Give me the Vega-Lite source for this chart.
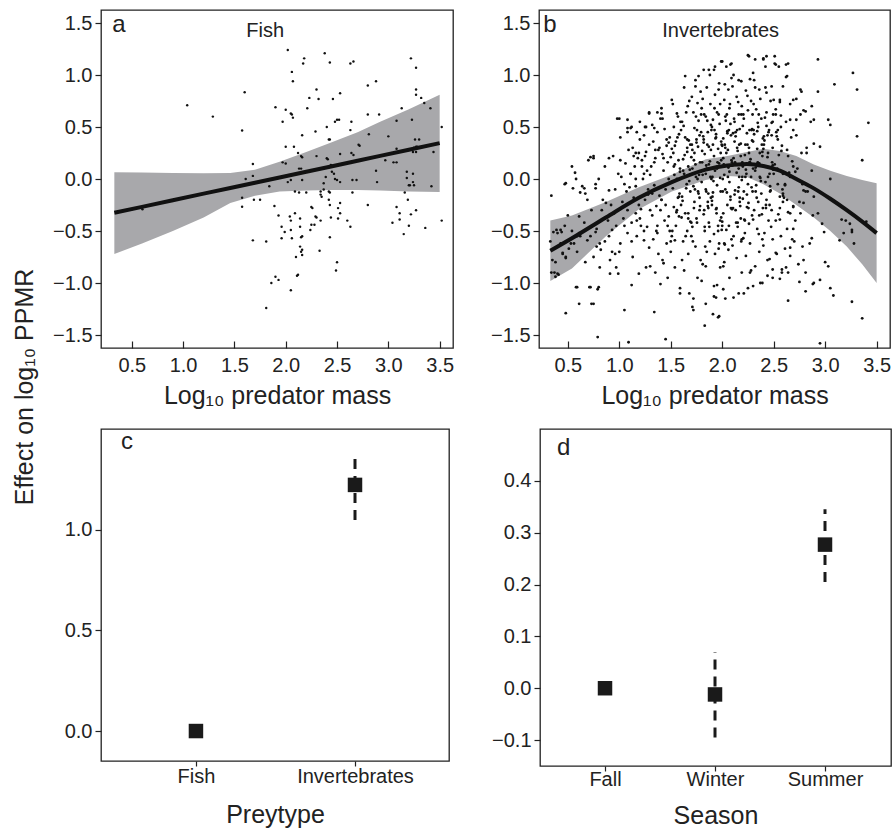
{
"$schema":"https://vega.github.io/schema/vega-lite/v6.json",
"padding":{"left":13,"top":9,"right":0,"bottom":0},
"config":{"font":"Liberation Sans","view":{"stroke":"#222","strokeWidth":1.3},
"axis":{"domain":false,"grid":false,"ticks":true,"tickColor":"#222","tickWidth":1.2,"tickSize":6,"labelFont":"Liberation Sans","labelFontSize":20,"labelColor":"#222","labelPadding":3,"titleFont":"Liberation Sans","titleFontSize":25,"titleFontWeight":"normal","titleColor":"#222"},
"axisY":{"minExtent":50,"maxExtent":50},
"text":{"font":"Liberation Sans","color":"#222"},
"title":{"fontWeight":"normal","color":"#222","font":"Liberation Sans"}},
"title":{"text":"Effect on log₁₀ PPMR","orient":"left","anchor":"middle","fontSize":25,"offset":12,"dx":32},
"datasets":{
"fish":[{"x":0.604,"y":-0.29},{"x":1.04,"y":0.71},{"x":1.29,"y":0.60},{"x":1.60,"y":0.835},{"x":1.575,"y":0.466},{"x":1.61,"y":0.0},{"x":1.575,"y":-0.18},{"x":1.575,"y":-0.267},{"x":1.68,"y":0.145},{"x":1.68,"y":0.03},{"x":1.69,"y":-0.20},{"x":1.75,"y":-0.20},{"x":1.68,"y":-0.59},{"x":1.81,"y":-0.60},{"x":1.81,"y":-1.24},{"x":1.86,"y":-1.0},{"x":1.90,"y":-0.94},{"x":1.93,"y":-0.97},{"x":1.84,"y":-0.07},{"x":1.89,"y":-0.26},{"x":1.90,"y":0.69},{"x":1.97,"y":0.55},{"x":2.0,"y":0.665},{"x":2.0,"y":0.31},{"x":1.97,"y":0.16},{"x":2.0,"y":0.15},{"x":1.93,"y":-0.35},{"x":1.96,"y":-0.46},{"x":1.99,"y":-0.51},{"x":1.96,"y":-0.57},{"x":2.02,"y":1.24},{"x":2.06,"y":1.03},{"x":2.07,"y":0.94},{"x":2.05,"y":0.63},{"x":2.06,"y":0.62},{"x":2.07,"y":0.59},{"x":2.08,"y":0.31},{"x":2.02,"y":-0.03},{"x":2.05,"y":-0.01},{"x":2.04,"y":-0.36},{"x":2.05,"y":-0.40},{"x":2.09,"y":-0.33},{"x":2.05,"y":-0.49},{"x":2.06,"y":-0.57},{"x":2.05,"y":-1.07},{"x":2.09,"y":-0.12},{"x":2.13,"y":-0.13},{"x":2.10,"y":-0.75},{"x":2.11,"y":-0.93},{"x":2.12,"y":-0.92},{"x":2.14,"y":-0.38},{"x":2.14,"y":-0.46},{"x":2.15,"y":-0.56},{"x":2.16,"y":-0.55},{"x":2.14,"y":-0.65},{"x":2.16,"y":-0.68},{"x":2.15,"y":-0.70},{"x":2.16,"y":-0.73},{"x":2.12,"y":0.25},{"x":2.15,"y":0.22},{"x":2.16,"y":0.21},{"x":2.13,"y":0.10},{"x":2.15,"y":0.10},{"x":2.16,"y":-0.01},{"x":2.16,"y":0.42},{"x":2.17,"y":1.11},{"x":2.18,"y":1.16},{"x":2.21,"y":0.68},{"x":2.23,"y":0.78},{"x":2.20,"y":-0.13},{"x":2.25,"y":-0.27},{"x":2.26,"y":-0.28},{"x":2.25,"y":-0.44},{"x":2.28,"y":-0.44},{"x":2.29,"y":-0.36},{"x":2.30,"y":-0.37},{"x":2.24,"y":-0.49},{"x":2.29,"y":0.456},{"x":2.30,"y":0.86},{"x":2.32,"y":0.77},{"x":2.30,"y":0.22},{"x":2.34,"y":-0.12},{"x":2.34,"y":-0.15},{"x":2.35,"y":-0.17},{"x":2.34,"y":-0.40},{"x":2.33,"y":-0.69},{"x":2.37,"y":-0.04},{"x":2.37,"y":-0.10},{"x":2.38,"y":1.21},{"x":2.40,"y":0.50},{"x":2.42,"y":0.38},{"x":2.43,"y":0.38},{"x":2.40,"y":0.20},{"x":2.41,"y":0.19},{"x":2.39,"y":0.02},{"x":2.42,"y":-0.12},{"x":2.43,"y":-0.13},{"x":2.42,"y":-0.20},{"x":2.43,"y":-0.25},{"x":2.44,"y":-0.37},{"x":2.43,"y":-0.56},{"x":2.43,"y":1.12},{"x":2.46,"y":0.77},{"x":2.44,"y":0.135},{"x":2.45,"y":0.07},{"x":2.47,"y":0.05},{"x":2.48,"y":0.0},{"x":2.50,"y":-0.01},{"x":2.53,"y":-0.03},{"x":2.48,"y":0.55},{"x":2.50,"y":0.57},{"x":2.52,"y":0.57},{"x":2.53,"y":0.825},{"x":2.51,"y":0.135},{"x":2.53,"y":0.24},{"x":2.51,"y":-0.28},{"x":2.53,"y":-0.33},{"x":2.51,"y":-0.38},{"x":2.53,"y":-0.23},{"x":2.50,"y":-0.80},{"x":2.49,"y":-0.88},{"x":2.60,"y":-0.40},{"x":2.63,"y":-0.46},{"x":2.63,"y":1.11},{"x":2.66,"y":1.13},{"x":2.63,"y":0.47},{"x":2.64,"y":0.55},{"x":2.64,"y":0.25},{"x":2.66,"y":0.23},{"x":2.65,"y":-0.01},{"x":2.69,"y":-0.01},{"x":2.65,"y":-0.13},{"x":2.71,"y":0.33},{"x":2.72,"y":0.32},{"x":2.80,"y":0.90},{"x":2.88,"y":0.94},{"x":2.80,"y":0.62},{"x":2.81,"y":0.43},{"x":2.80,"y":-0.25},{"x":2.88,"y":0.08},{"x":2.89,"y":-0.03},{"x":2.91,"y":0.62},{"x":2.97,"y":0.18},{"x":3.00,"y":0.41},{"x":3.04,"y":-0.42},{"x":3.05,"y":0.16},{"x":3.08,"y":0.16},{"x":3.08,"y":-0.27},{"x":3.11,"y":-0.33},{"x":3.11,"y":-0.39},{"x":3.08,"y":0.56},{"x":3.08,"y":0.29},{"x":3.13,"y":0.68},{"x":3.15,"y":-0.53},{"x":3.16,"y":-0.13},{"x":3.18,"y":0.07},{"x":3.18,"y":0.01},{"x":3.20,"y":-0.06},{"x":3.21,"y":-0.06},{"x":3.19,"y":-0.20},{"x":3.20,"y":-0.45},{"x":3.22,"y":-0.34},{"x":3.22,"y":1.16},{"x":3.23,"y":0.57},{"x":3.24,"y":0.26},{"x":3.25,"y":0.30},{"x":3.26,"y":0.38},{"x":3.27,"y":0.26},{"x":3.27,"y":0.31},{"x":3.24,"y":0.05},{"x":3.24,"y":-0.03},{"x":3.25,"y":-0.06},{"x":3.27,"y":1.07},{"x":3.27,"y":0.86},{"x":3.27,"y":0.81},{"x":3.27,"y":-0.30},{"x":3.30,"y":0.38},{"x":3.28,"y":0.31},{"x":3.32,"y":0.78},{"x":3.35,"y":0.73},{"x":3.36,"y":-0.47},{"x":3.41,"y":0.68},{"x":3.42,"y":-0.07},{"x":3.44,"y":0.26},{"x":3.52,"y":0.50},{"x":3.52,"y":-0.40}],
"fishfit":[{"x":0.33,"fit":-0.325,"lo":-0.72,"hi":0.065},{"x":0.6,"fit":-0.268,"lo":-0.62,"hi":0.062},{"x":0.9,"fit":-0.205,"lo":-0.50,"hi":0.058},{"x":1.2,"fit":-0.141,"lo":-0.37,"hi":0.055},{"x":1.46,"fit":-0.086,"lo":-0.23,"hi":0.058},{"x":1.7,"fit":-0.036,"lo":-0.16,"hi":0.09},{"x":1.94,"fit":0.015,"lo":-0.12,"hi":0.165},{"x":2.2,"fit":0.070,"lo":-0.11,"hi":0.26},{"x":2.43,"fit":0.118,"lo":-0.105,"hi":0.345},{"x":2.7,"fit":0.175,"lo":-0.105,"hi":0.45},{"x":2.92,"fit":0.222,"lo":-0.11,"hi":0.55},{"x":3.2,"fit":0.281,"lo":-0.12,"hi":0.67},{"x":3.5,"fit":0.345,"lo":-0.125,"hi":0.81}],
"invfit":[{"x":0.33,"fit":-0.69,"lo":-0.98,"hi":-0.40},{"x":0.54,"fit":-0.57,"lo":-0.86,"hi":-0.35},{"x":0.87,"fit":-0.37,"lo":-0.55,"hi":-0.22},{"x":1.19,"fit":-0.18,"lo":-0.29,"hi":-0.08},{"x":1.51,"fit":-0.03,"lo":-0.12,"hi":0.04},{"x":1.84,"fit":0.09,"lo":-0.01,"hi":0.19},{"x":2.05,"fit":0.13,"lo":0.03,"hi":0.22},{"x":2.24,"fit":0.145,"lo":0.02,"hi":0.26},{"x":2.40,"fit":0.125,"lo":-0.05,"hi":0.29},{"x":2.56,"fit":0.08,"lo":-0.14,"hi":0.27},{"x":2.72,"fit":0.0,"lo":-0.25,"hi":0.22},{"x":2.89,"fit":-0.09,"lo":-0.37,"hi":0.14},{"x":3.05,"fit":-0.19,"lo":-0.50,"hi":0.08},{"x":3.21,"fit":-0.30,"lo":-0.65,"hi":0.03},{"x":3.36,"fit":-0.41,"lo":-0.82,"hi":-0.01},{"x":3.5,"fit":-0.52,"lo":-1.0,"hi":-0.04}],
"inv":[{"x":0.34,"y":-0.16},{"x":0.34,"y":-0.90},{"x":0.35,"y":-0.78},{"x":0.38,"y":-0.94},{"x":0.40,"y":-0.91},{"x":0.40,"y":-0.52},{"x":0.43,"y":-0.49},{"x":0.45,"y":-0.72},{"x":0.48,"y":-1.29},{"x":0.48,"y":-0.04},{"x":0.51,"y":-0.59},{"x":0.53,"y":-0.62},{"x":0.54,"y":0.12},{"x":0.57,"y":0.06},{"x":0.59,"y":-1.04},{"x":0.61,"y":-1.20},{"x":0.61,"y":-0.36},{"x":0.64,"y":-0.07},{"x":0.67,"y":-0.14},{"x":0.70,"y":0.18},{"x":0.72,"y":-1.04},{"x":0.75,"y":-1.20},{"x":0.75,"y":0.22},{"x":0.77,"y":-0.09},{"x":0.79,"y":-1.52},{"x":0.80,"y":-1.04},{"x":0.82,"y":-0.68},{"x":0.83,"y":-0.30},{"x":0.87,"y":-0.23},{"x":0.86,"y":0.12},{"x":0.90,"y":-0.11},{"x":0.91,"y":-0.78},{"x":0.93,"y":-0.49},{"x":0.95,"y":-0.33},{"x":0.96,"y":-0.72},{"x":0.98,"y":0.58},{"x":0.99,"y":-0.91},{"x":1.01,"y":0.18},{"x":1.03,"y":-0.27},{"x":1.05,"y":-1.26},{"x":1.08,"y":0.57},{"x":1.08,"y":0.49},{"x":1.08,"y":-0.52},{"x":1.09,"y":-1.57},{"x":1.11,"y":0.05},{"x":1.12,"y":0.50},{"x":1.12,"y":-1.02},{"x":1.14,"y":0.22},{"x":1.16,"y":0.25},{"x":1.16,"y":-0.07},{"x":1.17,"y":-0.40},{"x":1.19,"y":-0.91},{"x":1.20,"y":0.38},{"x":1.22,"y":0.12},{"x":1.24,"y":0.05},{"x":1.24,"y":-0.59},{"x":1.25,"y":0.50},{"x":1.27,"y":-0.46},{"x":1.29,"y":0.63},{"x":1.30,"y":-0.84},{"x":1.32,"y":-0.14},{"x":1.34,"y":-1.28},{"x":1.35,"y":0.28},{"x":1.37,"y":-0.52},{"x":1.40,"y":-1.01},{"x":1.41,"y":0.63},{"x":1.41,"y":-0.20},{"x":1.43,"y":-0.81},{"x":1.45,"y":-1.54},{"x":1.46,"y":0.38},{"x":1.48,"y":-0.36},{"x":1.51,"y":0.76},{"x":1.53,"y":0.12},{"x":1.54,"y":-0.59},{"x":1.56,"y":0.63},{"x":1.58,"y":-0.17},{"x":1.59,"y":-1.10},{"x":1.61,"y":-0.78},{"x":1.64,"y":0.99},{"x":1.66,"y":0.38},{"x":1.67,"y":-0.33},{"x":1.71,"y":-1.23},{"x":1.72,"y":-1.26},{"x":1.74,"y":0.89},{"x":1.77,"y":0.99},{"x":1.82,"y":1.05},{"x":1.83,"y":-1.41},{"x":1.84,"y":-0.84},{"x":1.87,"y":1.05},{"x":1.92,"y":-1.13},{"x":1.93,"y":1.08},{"x":1.96,"y":-1.33},{"x":2.00,"y":1.13},{"x":2.01,"y":-0.84},{"x":2.09,"y":1.11},{"x":2.16,"y":0.95},{"x":2.26,"y":1.18},{"x":2.32,"y":1.15},{"x":2.40,"y":1.15},{"x":2.43,"y":1.18},{"x":2.51,"y":1.11},{"x":2.55,"y":1.08},{"x":2.64,"y":1.11},{"x":2.63,"y":0.99},{"x":2.64,"y":-1.17},{"x":2.75,"y":-0.99},{"x":2.76,"y":0.86},{"x":2.79,"y":-0.78},{"x":2.87,"y":0.70},{"x":2.87,"y":-0.57},{"x":2.88,"y":-1.01},{"x":2.93,"y":1.15},{"x":2.93,"y":0.84},{"x":2.93,"y":-0.33},{"x":2.95,"y":0.31},{"x":2.95,"y":-1.58},{"x":3.03,"y":0.57},{"x":3.05,"y":0.52},{"x":3.05,"y":0.00},{"x":3.08,"y":-1.12},{"x":3.09,"y":0.91},{"x":3.14,"y":-0.59},{"x":3.18,"y":-0.52},{"x":3.20,"y":-0.40},{"x":3.26,"y":-1.18},{"x":3.26,"y":-0.51},{"x":3.27,"y":1.02},{"x":3.28,"y":-0.62},{"x":3.31,"y":0.86},{"x":3.31,"y":0.41},{"x":3.36,"y":0.18},{"x":3.36,"y":-1.34},{"x":3.40,"y":-0.41},{"x":3.42,"y":0.54},
{"x":2.89,"y":0.57},{"x":2.79,"y":0.66},{"x":2.81,"y":0.65},{"x":2.77,"y":0.84},{"x":2.69,"y":0.76},{"x":2.72,"y":0.77},{"x":2.66,"y":0.57},{"x":2.72,"y":0.57},{"x":2.69,"y":0.47},{"x":2.82,"y":0.25},{"x":2.89,"y":0.34},{"x":2.81,"y":-0.12},{"x":2.89,"y":-0.17},{"x":2.97,"y":-0.43},{"x":2.99,"y":-0.51},{"x":2.78,"y":-0.65},{"x":3.00,"y":-0.80},{"x":3.03,"y":-0.84},{"x":2.95,"y":-0.97},{"x":2.89,"y":-1.0},{"x":2.81,"y":-1.08},{"x":3.05,"y":-1.05},{"x":3.16,"y":-0.39},{"x":3.24,"y":-0.43},{"x":3.26,"y":-0.49},{"x":2.79,"y":-0.23},{"x":2.76,"y":-0.33},{"x":2.69,"y":-0.27},{"x":2.66,"y":-0.33},{"x":2.63,"y":-0.20},{"x":2.59,"y":-0.14},{"x":2.56,"y":-0.17},{"x":2.69,"y":0.12},{"x":2.71,"y":0.07},{"x":2.79,"y":-0.11},{"x":2.66,"y":0.02},{"x":2.59,"y":0.05},{"x":2.61,"y":-0.05},{"x":2.56,"y":-0.39},{"x":2.63,"y":-0.48},{"x":2.68,"y":-0.58},{"x":2.61,"y":-0.67},{"x":2.66,"y":-0.74},{"x":2.58,"y":-0.87},{"x":2.64,"y":-0.90},{"x":2.56,"y":-0.96},{"x":2.49,"y":-0.58},{"x":2.52,"y":-0.71},{"x":2.46,"y":-0.77},{"x":2.49,"y":-0.87},{"x":2.44,"y":-0.93},{"x":2.39,"y":-1.0},{"x":2.30,"y":-1.03},{"x":2.27,"y":-0.90},{"x":2.21,"y":-1.1},{"x":2.11,"y":-1.14},{"x":2.01,"y":-1.06},{"x":1.94,"y":-1.14},{"x":1.97,"y":-1.32},{"x":1.92,"y":-1.03},{"x":2.30,"y":1.02},{"x":2.42,"y":1.08},{"x":2.51,"y":1.18},{"x":2.25,"y":1.19},{"x":2.40,"y":1.16},{"x":1.99,"y":1.13},{"x":2.08,"y":1.10},{"x":2.62,"y":1.10},{"x":2.52,"y":1.10},{"x":2.62,"y":0.98},{"x":2.59,"y":0.89},{"x":2.48,"y":0.89},{"x":2.50,"y":0.76},{"x":2.43,"y":0.83},{"x":2.36,"y":0.86},{"x":2.31,"y":0.95},{"x":2.56,"y":0.74},{"x":2.52,"y":0.67},{"x":2.57,"y":0.61},{"x":2.49,"y":0.55},{"x":2.54,"y":0.47},{"x":2.48,"y":0.42},{"x":2.43,"y":0.51},
{"x":0.72,"y":0.21},{"x":0.75,"y":0.20},{"x":0.90,"y":0.20},{"x":1.0,"y":0.58},{"x":1.08,"y":0.45},{"x":1.11,"y":0.49},{"x":1.26,"y":0.50},{"x":1.29,"y":0.64},{"x":1.34,"y":0.49},{"x":1.37,"y":0.64},{"x":1.42,"y":0.58},{"x":0.47,"y":-0.05},{"x":0.55,"y":-0.09},{"x":0.58,"y":0.0},{"x":0.66,"y":-0.09},{"x":0.62,"y":-0.13},{"x":0.36,"y":-0.51},{"x":0.39,"y":-0.49},{"x":0.44,"y":-0.51},{"x":0.37,"y":-0.90},{"x":0.41,"y":-0.92},{"x":0.45,"y":-0.71},{"x":0.48,"y":-0.76},{"x":0.51,"y":-0.67},{"x":0.56,"y":-0.62},{"x":0.59,"y":-0.55},{"x":0.61,"y":-0.52},{"x":0.69,"y":-0.59},{"x":0.72,"y":-0.55},{"x":0.77,"y":-0.51},{"x":0.73,"y":-1.2},{"x":0.58,"y":-1.04},{"x":0.71,"y":-1.04},{"x":0.79,"y":-1.06},{"x":0.91,"y":-0.91},{"x":0.97,"y":-0.85},{"x":0.78,"y":-0.65},{"x":0.81,"y":-0.62},
{"x":1.01,"y":-0.62},{"x":1.05,"y":-0.45},{"x":1.08,"y":-0.30},{"x":1.03,"y":-0.22},{"x":1.07,"y":-0.12},{"x":1.02,"y":0.02},{"x":1.06,"y":0.15},{"x":1.09,"y":0.28},{"x":1.04,"y":-0.38},{"x":1.00,"y":-0.70},{"x":1.01,"y":0.40},{"x":1.05,"y":-0.05},
{"x":1.13,"y":-0.75},{"x":1.17,"y":-0.55},{"x":1.12,"y":-0.42},{"x":1.16,"y":-0.33},{"x":1.19,"y":-0.25},{"x":1.14,"y":-0.18},{"x":1.10,"y":-0.08},{"x":1.11,"y":0.05},{"x":1.15,"y":0.12},{"x":1.18,"y":0.20},{"x":1.13,"y":0.30},{"x":1.17,"y":0.45},{"x":1.12,"y":-0.60},{"x":1.16,"y":0.00},{"x":1.19,"y":0.25},
{"x":1.26,"y":-0.85},{"x":1.29,"y":-0.66},{"x":1.24,"y":-0.50},{"x":1.20,"y":-0.38},{"x":1.21,"y":-0.29},{"x":1.25,"y":-0.20},{"x":1.28,"y":-0.10},{"x":1.23,"y":0.00},{"x":1.27,"y":0.08},{"x":1.22,"y":0.18},{"x":1.26,"y":0.26},{"x":1.29,"y":0.33},{"x":1.24,"y":0.42},{"x":1.20,"y":0.55},{"x":1.21,"y":-0.45},{"x":1.25,"y":0.22},{"x":1.28,"y":-0.15},
{"x":1.35,"y":-0.90},{"x":1.38,"y":-0.72},{"x":1.33,"y":-0.58},{"x":1.37,"y":-0.45},{"x":1.32,"y":-0.35},{"x":1.36,"y":-0.26},{"x":1.39,"y":-0.16},{"x":1.34,"y":-0.06},{"x":1.30,"y":0.04},{"x":1.31,"y":0.12},{"x":1.35,"y":0.20},{"x":1.38,"y":0.28},{"x":1.33,"y":0.36},{"x":1.37,"y":0.45},{"x":1.32,"y":0.52},{"x":1.36,"y":-0.50},{"x":1.39,"y":0.30},{"x":1.34,"y":0.16},{"x":1.30,"y":-0.30},
{"x":1.47,"y":-0.95},{"x":1.42,"y":-0.78},{"x":1.46,"y":-0.62},{"x":1.49,"y":-0.50},{"x":1.44,"y":-0.40},{"x":1.40,"y":-0.30},{"x":1.41,"y":-0.20},{"x":1.45,"y":-0.10},{"x":1.48,"y":0.00},{"x":1.43,"y":0.08},{"x":1.47,"y":0.16},{"x":1.42,"y":0.24},{"x":1.46,"y":0.32},{"x":1.49,"y":0.40},{"x":1.44,"y":0.48},{"x":1.40,"y":0.58},{"x":1.41,"y":0.68},{"x":1.45,"y":-0.25},{"x":1.48,"y":0.35},{"x":1.43,"y":0.20},{"x":1.47,"y":-0.45},
{"x":1.59,"y":-1.05},{"x":1.54,"y":-0.85},{"x":1.50,"y":-0.70},{"x":1.51,"y":-0.55},{"x":1.55,"y":-0.45},{"x":1.58,"y":-0.36},{"x":1.53,"y":-0.27},{"x":1.57,"y":-0.18},{"x":1.52,"y":-0.09},{"x":1.56,"y":0.00},{"x":1.59,"y":0.07},{"x":1.54,"y":0.14},{"x":1.50,"y":0.21},{"x":1.51,"y":0.29},{"x":1.55,"y":0.36},{"x":1.58,"y":0.43},{"x":1.53,"y":0.50},{"x":1.57,"y":0.60},{"x":1.52,"y":0.72},{"x":1.56,"y":-0.30},{"x":1.59,"y":0.10},{"x":1.54,"y":0.32},{"x":1.50,"y":-0.60},
{"x":1.68,"y":-1.10},{"x":1.63,"y":-0.88},{"x":1.67,"y":-0.72},{"x":1.62,"y":-0.60},{"x":1.66,"y":-0.50},{"x":1.69,"y":-0.41},{"x":1.64,"y":-0.33},{"x":1.60,"y":-0.25},{"x":1.61,"y":-0.17},{"x":1.65,"y":-0.09},{"x":1.68,"y":-0.02},{"x":1.63,"y":0.05},{"x":1.67,"y":0.12},{"x":1.62,"y":0.19},{"x":1.66,"y":0.26},{"x":1.69,"y":0.33},{"x":1.64,"y":0.40},{"x":1.60,"y":0.47},{"x":1.61,"y":0.55},{"x":1.65,"y":0.64},{"x":1.68,"y":0.75},{"x":1.63,"y":0.88},{"x":1.67,"y":-0.38},{"x":1.62,"y":0.08},{"x":1.66,"y":0.30},{"x":1.69,"y":-0.12},
{"x":1.72,"y":-1.15},{"x":1.76,"y":-0.95},{"x":1.79,"y":-0.78},{"x":1.74,"y":-0.65},{"x":1.70,"y":-0.55},{"x":1.71,"y":-0.46},{"x":1.75,"y":-0.38},{"x":1.78,"y":-0.30},{"x":1.73,"y":-0.22},{"x":1.77,"y":-0.14},{"x":1.72,"y":-0.07},{"x":1.76,"y":0.00},{"x":1.79,"y":0.07},{"x":1.74,"y":0.14},{"x":1.70,"y":0.21},{"x":1.71,"y":0.28},{"x":1.75,"y":0.35},{"x":1.78,"y":0.42},{"x":1.73,"y":0.49},{"x":1.77,"y":0.56},{"x":1.72,"y":0.64},{"x":1.76,"y":0.73},{"x":1.79,"y":0.84},{"x":1.74,"y":0.95},{"x":1.70,"y":-0.42},{"x":1.71,"y":0.10},{"x":1.75,"y":0.38},{"x":1.78,"y":-0.18},{"x":1.73,"y":0.25},
{"x":1.84,"y":-1.20},{"x":1.80,"y":-0.98},{"x":1.81,"y":-0.82},{"x":1.85,"y":-0.70},{"x":1.88,"y":-0.60},{"x":1.83,"y":-0.50},{"x":1.87,"y":-0.42},{"x":1.82,"y":-0.34},{"x":1.86,"y":-0.26},{"x":1.89,"y":-0.18},{"x":1.84,"y":-0.10},{"x":1.80,"y":-0.03},{"x":1.81,"y":0.04},{"x":1.85,"y":0.10},{"x":1.88,"y":0.17},{"x":1.83,"y":0.24},{"x":1.87,"y":0.31},{"x":1.82,"y":0.38},{"x":1.86,"y":0.45},{"x":1.89,"y":0.52},{"x":1.84,"y":0.60},{"x":1.80,"y":0.68},{"x":1.81,"y":0.77},{"x":1.85,"y":0.88},{"x":1.88,"y":1.00},{"x":1.83,"y":-0.46},{"x":1.87,"y":0.14},{"x":1.82,"y":0.35},{"x":1.86,"y":-0.22},{"x":1.89,"y":0.28},{"x":1.84,"y":0.05},
{"x":1.91,"y":-1.30},{"x":1.95,"y":-1.02},{"x":1.98,"y":-0.85},{"x":1.93,"y":-0.72},{"x":1.97,"y":-0.62},{"x":1.92,"y":-0.53},{"x":1.96,"y":-0.45},{"x":1.99,"y":-0.37},{"x":1.94,"y":-0.29},{"x":1.90,"y":-0.21},{"x":1.91,"y":-0.13},{"x":1.95,"y":-0.06},{"x":1.98,"y":0.01},{"x":1.93,"y":0.08},{"x":1.97,"y":0.15},{"x":1.92,"y":0.22},{"x":1.96,"y":0.29},{"x":1.99,"y":0.36},{"x":1.94,"y":0.43},{"x":1.90,"y":0.50},{"x":1.91,"y":0.57},{"x":1.95,"y":0.64},{"x":1.98,"y":0.72},{"x":1.93,"y":0.81},{"x":1.97,"y":0.92},{"x":1.92,"y":1.05},{"x":1.96,"y":-0.50},{"x":1.99,"y":0.18},{"x":1.94,"y":0.40},{"x":1.90,"y":-0.25},{"x":1.91,"y":0.33},{"x":1.95,"y":0.10},{"x":1.98,"y":-0.40},
{"x":2.03,"y":-1.15},{"x":2.07,"y":-0.95},{"x":2.02,"y":-0.80},{"x":2.06,"y":-0.68},{"x":2.09,"y":-0.58},{"x":2.04,"y":-0.49},{"x":2.00,"y":-0.41},{"x":2.01,"y":-0.33},{"x":2.05,"y":-0.25},{"x":2.08,"y":-0.17},{"x":2.03,"y":-0.10},{"x":2.07,"y":-0.03},{"x":2.02,"y":0.04},{"x":2.06,"y":0.11},{"x":2.09,"y":0.18},{"x":2.04,"y":0.25},{"x":2.00,"y":0.32},{"x":2.01,"y":0.39},{"x":2.05,"y":0.46},{"x":2.08,"y":0.53},{"x":2.03,"y":0.60},{"x":2.07,"y":0.68},{"x":2.02,"y":0.76},{"x":2.06,"y":0.86},{"x":2.09,"y":0.97},{"x":2.04,"y":1.08},{"x":2.00,"y":-0.45},{"x":2.01,"y":0.20},{"x":2.05,"y":0.44},{"x":2.08,"y":-0.20},{"x":2.03,"y":0.30},{"x":2.07,"y":0.07},{"x":2.02,"y":-0.62},
{"x":2.16,"y":-1.10},{"x":2.19,"y":-0.90},{"x":2.14,"y":-0.76},{"x":2.10,"y":-0.64},{"x":2.11,"y":-0.55},{"x":2.15,"y":-0.46},{"x":2.18,"y":-0.38},{"x":2.13,"y":-0.30},{"x":2.17,"y":-0.22},{"x":2.12,"y":-0.15},{"x":2.16,"y":-0.08},{"x":2.19,"y":-0.01},{"x":2.14,"y":0.06},{"x":2.10,"y":0.13},{"x":2.11,"y":0.20},{"x":2.15,"y":0.27},{"x":2.18,"y":0.34},{"x":2.13,"y":0.41},{"x":2.17,"y":0.48},{"x":2.12,"y":0.55},{"x":2.16,"y":0.62},{"x":2.19,"y":0.70},{"x":2.14,"y":0.79},{"x":2.10,"y":0.89},{"x":2.11,"y":1.00},{"x":2.15,"y":-0.42},{"x":2.18,"y":0.22},{"x":2.13,"y":0.45},{"x":2.17,"y":-0.18},{"x":2.12,"y":0.36},{"x":2.16,"y":0.10},{"x":2.19,"y":-0.58},
{"x":2.25,"y":-1.05},{"x":2.28,"y":-0.88},{"x":2.23,"y":-0.74},{"x":2.27,"y":-0.62},{"x":2.22,"y":-0.52},{"x":2.26,"y":-0.43},{"x":2.29,"y":-0.35},{"x":2.24,"y":-0.27},{"x":2.20,"y":-0.19},{"x":2.21,"y":-0.12},{"x":2.25,"y":-0.05},{"x":2.28,"y":0.02},{"x":2.23,"y":0.09},{"x":2.27,"y":0.16},{"x":2.22,"y":0.23},{"x":2.26,"y":0.30},{"x":2.29,"y":0.37},{"x":2.24,"y":0.44},{"x":2.20,"y":0.51},{"x":2.21,"y":0.58},{"x":2.25,"y":0.66},{"x":2.28,"y":0.75},{"x":2.23,"y":0.85},{"x":2.27,"y":0.96},{"x":2.22,"y":-0.40},{"x":2.26,"y":0.25},{"x":2.29,"y":0.48},{"x":2.24,"y":-0.15},{"x":2.20,"y":0.12},
{"x":2.37,"y":-1.00},{"x":2.32,"y":-0.84},{"x":2.36,"y":-0.70},{"x":2.39,"y":-0.58},{"x":2.34,"y":-0.48},{"x":2.30,"y":-0.39},{"x":2.31,"y":-0.30},{"x":2.35,"y":-0.22},{"x":2.38,"y":-0.14},{"x":2.33,"y":-0.06},{"x":2.37,"y":0.01},{"x":2.32,"y":0.08},{"x":2.36,"y":0.15},{"x":2.39,"y":0.22},{"x":2.34,"y":0.29},{"x":2.30,"y":0.36},{"x":2.31,"y":0.43},{"x":2.35,"y":0.50},{"x":2.38,"y":0.58},{"x":2.33,"y":0.67},{"x":2.37,"y":0.77},{"x":2.32,"y":0.88},{"x":2.36,"y":-0.35},{"x":2.39,"y":0.26},{"x":2.34,"y":0.46},{"x":2.30,"y":0.10},
{"x":2.49,"y":-0.95},{"x":2.44,"y":-0.78},{"x":2.40,"y":-0.64},{"x":2.41,"y":-0.52},{"x":2.45,"y":-0.40},{"x":2.48,"y":-0.30},{"x":2.43,"y":-0.20},{"x":2.47,"y":-0.11},{"x":2.42,"y":-0.03},{"x":2.46,"y":0.05},{"x":2.49,"y":0.13},{"x":2.44,"y":0.21},{"x":2.40,"y":0.29},{"x":2.41,"y":0.37},{"x":2.45,"y":0.45},{"x":2.48,"y":0.54},{"x":2.43,"y":0.64},{"x":2.47,"y":0.75},{"x":2.42,"y":0.88},{"x":2.46,"y":-0.25},{"x":2.49,"y":0.30},{"x":2.44,"y":0.42},
{"x":2.58,"y":-0.90},{"x":2.53,"y":-0.72},{"x":2.57,"y":-0.55},{"x":2.52,"y":-0.40},{"x":2.56,"y":-0.28},{"x":2.59,"y":-0.16},{"x":2.54,"y":-0.05},{"x":2.50,"y":0.05},{"x":2.51,"y":0.14},{"x":2.55,"y":0.23},{"x":2.58,"y":0.32},{"x":2.53,"y":0.41},{"x":2.57,"y":0.50},{"x":2.52,"y":0.62},{"x":2.56,"y":0.76},{"x":2.59,"y":-0.22},{"x":2.54,"y":0.38},
{"x":2.62,"y":-0.85},{"x":2.66,"y":-0.66},{"x":2.69,"y":-0.48},{"x":2.64,"y":-0.32},{"x":2.60,"y":-0.18},{"x":2.61,"y":-0.06},{"x":2.65,"y":0.06},{"x":2.68,"y":0.17},{"x":2.63,"y":0.28},{"x":2.67,"y":0.40},{"x":2.62,"y":0.55},{"x":2.66,"y":0.72},{"x":2.69,"y":-0.26},{"x":2.64,"y":0.22},
{"x":2.74,"y":-0.82},{"x":2.70,"y":-0.60},{"x":2.71,"y":-0.40},{"x":2.75,"y":-0.22},{"x":2.78,"y":-0.05},{"x":2.73,"y":0.10},{"x":2.77,"y":0.25},{"x":2.72,"y":0.42},{"x":2.76,"y":0.62},
{"x":2.81,"y":-0.90},{"x":2.85,"y":-0.62},{"x":2.88,"y":-0.35},{"x":2.83,"y":-0.12},{"x":2.87,"y":0.08},{"x":2.82,"y":0.30},{"x":2.86,"y":0.55},
{"x":0.93,"y":-0.70},{"x":0.97,"y":-0.45},{"x":0.92,"y":-0.25},{"x":0.96,"y":-0.10},{"x":0.99,"y":0.05},{"x":0.94,"y":0.22},{"x":0.90,"y":-0.55},
{"x":0.86,"y":-0.60},{"x":0.89,"y":-0.40},{"x":0.84,"y":-0.20},{"x":0.80,"y":0.00},{"x":0.81,"y":-0.85},
{"x":0.75,"y":-0.75},{"x":0.78,"y":-0.48},{"x":0.73,"y":-0.30},{"x":0.77,"y":-0.05},
{"x":0.67,"y":-0.80},{"x":0.62,"y":-0.55},{"x":0.66,"y":-0.42},{"x":0.69,"y":-0.20},
{"x":0.59,"y":-0.70},{"x":0.54,"y":-0.50},{"x":0.50,"y":-0.35},{"x":0.48,"y":-0.75},{"x":0.43,"y":-0.62},{"x":0.47,"y":-0.45},{"x":0.38,"y":-0.80},{"x":0.33,"y":-0.60},
{"x":1.515,"y":-0.50},{"x":1.555,"y":-0.32},{"x":1.585,"y":-0.14},{"x":1.535,"y":0.04},{"x":1.575,"y":0.18},{"x":1.525,"y":0.25},{"x":1.565,"y":0.40},{"x":1.595,"y":0.55},
{"x":1.645,"y":-0.55},{"x":1.605,"y":-0.37},{"x":1.615,"y":-0.21},{"x":1.655,"y":-0.05},{"x":1.685,"y":0.09},{"x":1.635,"y":0.23},{"x":1.675,"y":0.37},{"x":1.625,"y":0.51},{"x":1.665,"y":0.70},
{"x":1.715,"y":-0.60},{"x":1.755,"y":-0.42},{"x":1.785,"y":-0.26},{"x":1.735,"y":-0.10},{"x":1.775,"y":0.04},{"x":1.725,"y":0.18},{"x":1.765,"y":0.31},{"x":1.795,"y":0.45},{"x":1.745,"y":0.60},{"x":1.705,"y":0.79},
{"x":1.835,"y":-0.65},{"x":1.875,"y":-0.46},{"x":1.825,"y":-0.30},{"x":1.865,"y":-0.14},{"x":1.895,"y":0.00},{"x":1.845,"y":0.13},{"x":1.805,"y":0.27},{"x":1.815,"y":0.41},{"x":1.855,"y":0.56},{"x":1.885,"y":0.72},
{"x":1.965,"y":-0.67},{"x":1.995,"y":-0.49},{"x":1.945,"y":-0.33},{"x":1.905,"y":-0.17},{"x":1.915,"y":-0.02},{"x":1.955,"y":0.12},{"x":1.985,"y":0.25},{"x":1.935,"y":0.39},{"x":1.975,"y":0.53},{"x":1.925,"y":0.68},{"x":1.965,"y":0.86},
{"x":2.025,"y":-0.63},{"x":2.065,"y":-0.45},{"x":2.095,"y":-0.29},{"x":2.045,"y":-0.13},{"x":2.005,"y":0.00},{"x":2.015,"y":0.14},{"x":2.055,"y":0.28},{"x":2.085,"y":0.42},{"x":2.035,"y":0.56},{"x":2.075,"y":0.72},{"x":2.025,"y":0.91},
{"x":2.185,"y":-0.60},{"x":2.135,"y":-0.42},{"x":2.175,"y":-0.26},{"x":2.125,"y":-0.11},{"x":2.165,"y":0.02},{"x":2.195,"y":0.16},{"x":2.145,"y":0.30},{"x":2.105,"y":0.44},{"x":2.115,"y":0.58},{"x":2.155,"y":0.74},{"x":2.185,"y":0.94},
{"x":2.205,"y":-0.57},{"x":2.215,"y":-0.39},{"x":2.255,"y":-0.23},{"x":2.285,"y":-0.08},{"x":2.235,"y":0.05},{"x":2.275,"y":0.19},{"x":2.225,"y":0.33},{"x":2.265,"y":0.47},{"x":2.295,"y":0.62},{"x":2.245,"y":0.80},
{"x":2.355,"y":-0.53},{"x":2.385,"y":-0.34},{"x":2.335,"y":-0.18},{"x":2.375,"y":-0.02},{"x":2.325,"y":0.11},{"x":2.365,"y":0.25},{"x":2.395,"y":0.39},{"x":2.345,"y":0.54},{"x":2.305,"y":0.72},
{"x":2.475,"y":-0.46},{"x":2.425,"y":-0.25},{"x":2.465,"y":-0.07},{"x":2.495,"y":0.09},{"x":2.445,"y":0.25},{"x":2.405,"y":0.41},{"x":2.415,"y":0.59},
{"x":2.545,"y":-0.34},{"x":2.585,"y":-0.10},{"x":2.535,"y":0.10},{"x":2.575,"y":0.27},{"x":2.525,"y":0.45},
{"x":1.725,"y":-0.28},{"x":1.765,"y":-0.12},{"x":1.745,"y":0.02},{"x":1.785,"y":0.16},{"x":1.705,"y":0.33},{"x":1.755,"y":0.47},{"x":1.795,"y":0.62},
{"x":1.865,"y":-0.28},{"x":1.845,"y":-0.12},{"x":1.885,"y":0.02},{"x":1.805,"y":0.16},{"x":1.855,"y":0.33},{"x":1.895,"y":0.47},{"x":1.825,"y":0.62},
{"x":1.945,"y":-0.28},{"x":1.985,"y":-0.12},{"x":1.905,"y":0.02},{"x":1.955,"y":0.16},{"x":1.995,"y":0.33},{"x":1.925,"y":0.47},{"x":1.965,"y":0.62},
{"x":2.085,"y":-0.28},{"x":2.005,"y":-0.12},{"x":2.055,"y":0.02},{"x":2.095,"y":0.16},{"x":2.025,"y":0.33},{"x":2.065,"y":0.47},{"x":2.045,"y":0.62},
{"x":2.105,"y":-0.28},{"x":2.155,"y":-0.12},{"x":2.195,"y":0.02},{"x":2.125,"y":0.16},{"x":2.165,"y":0.33},{"x":2.145,"y":0.47},{"x":2.185,"y":0.62},
{"x":2.255,"y":-0.28},{"x":2.295,"y":-0.12},{"x":2.225,"y":0.02},{"x":2.265,"y":0.16},{"x":2.245,"y":0.33},{"x":2.285,"y":0.47},{"x":2.205,"y":0.62},
{"x":2.395,"y":-0.28},{"x":2.325,"y":-0.12},{"x":2.365,"y":0.02},{"x":2.345,"y":0.16},{"x":2.385,"y":0.33},{"x":2.305,"y":0.47},{"x":2.355,"y":0.62},
{"x":2.425,"y":-0.28},{"x":2.465,"y":-0.12},{"x":2.445,"y":0.02},{"x":2.485,"y":0.16},{"x":2.405,"y":0.33},{"x":2.455,"y":0.47},{"x":2.495,"y":0.62}],
"prey":[{"prey":"Fish","pos":0,"est":0,"lo":null,"hi":null},{"prey":"Invertebrates","pos":1,"est":1.224,"lo":1.05,"hi":1.373}],
"season":[{"season":"Fall","pos":0,"est":0,"lo":null,"hi":null},{"season":"Winter","pos":1,"est":-0.012,"lo":-0.095,"hi":0.07},{"season":"Summer","pos":2,"est":0.277,"lo":0.205,"hi":0.345}]
},
"spacing":19,
"vconcat":[
{"spacing":33,"hconcat":[
{"width":352,"height":338,
"encoding":{"x":{"field":"x","type":"quantitative","scale":{"domain":[0.2,3.63],"nice":false,"zero":false},"axis":{"values":[0.5,1,1.5,2,2.5,3,3.5],"format":".1f","title":"Log₁₀ predator mass","tickSize":-7,"labelPadding":14,"titlePadding":8}}},
"layer":[
{"data":{"name":"fishfit"},"mark":{"type":"area","color":"#a8a8ab","opacity":1},"encoding":{"y":{"field":"lo","type":"quantitative","scale":{"domain":[-1.625,1.625],"nice":false,"zero":false},"axis":{"values":[-1.5,-1,-0.5,0,0.5,1,1.5],"format":".1f","title":null}},"y2":{"field":"hi"}}},
{"data":{"name":"fish"},"mark":{"type":"circle","size":6,"color":"#111","opacity":1,"clip":true},"encoding":{"y":{"field":"y","type":"quantitative","scale":{"domain":[-1.625,1.625],"nice":false,"zero":false},"axis":{"values":[-1.5,-1,-0.5,0,0.5,1,1.5],"format":".1f","title":null}}}},
{"data":{"name":"fishfit"},"mark":{"type":"line","color":"#111","strokeWidth":4},"encoding":{"y":{"field":"fit","type":"quantitative","scale":{"domain":[-1.625,1.625],"nice":false,"zero":false},"axis":{"values":[-1.5,-1,-0.5,0,0.5,1,1.5],"format":".1f","title":null}}}},
{"data":{"values":[{"x":1.8,"y":1.365,"label":"Fish","fs":20},{"x":0.375,"y":1.413,"label":"a","fs":24}]},"mark":{"type":"text","color":"#222","baseline":"alphabetic","align":"center"},"encoding":{"y":{"field":"y","type":"quantitative","scale":{"domain":[-1.625,1.625],"nice":false,"zero":false},"axis":{"values":[-1.5,-1,-0.5,0,0.5,1,1.5],"format":".1f","title":null}},"text":{"field":"label"},"size":{"field":"fs","type":"quantitative","scale":null},"align":{"condition":{"test":"datum.label == 'a'","value":"left"},"value":"center"}}}
]},
{"width":351,"height":338,
"encoding":{"x":{"field":"x","type":"quantitative","scale":{"domain":[0.22,3.63],"nice":false,"zero":false},"axis":{"values":[0.5,1,1.5,2,2.5,3,3.5],"format":".1f","title":"Log₁₀ predator mass","tickSize":-7,"labelPadding":14,"titlePadding":8}}},
"layer":[
{"data":{"name":"invfit"},"mark":{"type":"area","color":"#a8a8ab","opacity":1},"encoding":{"y":{"field":"lo","type":"quantitative","scale":{"domain":[-1.625,1.625],"nice":false,"zero":false},"axis":{"values":[-1.5,-1,-0.5,0,0.5,1,1.5],"format":".1f","title":null}},"y2":{"field":"hi"}}},
{"data":{"name":"inv"},"mark":{"type":"circle","size":8,"color":"#111","opacity":1,"clip":true},"encoding":{"y":{"field":"y","type":"quantitative","scale":{"domain":[-1.625,1.625],"nice":false,"zero":false},"axis":{"values":[-1.5,-1,-0.5,0,0.5,1,1.5],"format":".1f","title":null}}}},
{"data":{"name":"invfit"},"mark":{"type":"line","color":"#111","strokeWidth":4,"interpolate":"monotone"},"encoding":{"y":{"field":"fit","type":"quantitative","scale":{"domain":[-1.625,1.625],"nice":false,"zero":false},"axis":{"values":[-1.5,-1,-0.5,0,0.5,1,1.5],"format":".1f","title":null}}}},
{"data":{"values":[{"x":1.985,"y":1.365,"label":"Invertebrates","fs":20},{"x":0.327,"y":1.413,"label":"b","fs":24}]},"mark":{"type":"text","color":"#222","baseline":"alphabetic","align":"center"},"encoding":{"y":{"field":"y","type":"quantitative","scale":{"domain":[-1.625,1.625],"nice":false,"zero":false},"axis":{"values":[-1.5,-1,-0.5,0,0.5,1,1.5],"format":".1f","title":null}},"text":{"field":"label"},"size":{"field":"fs","type":"quantitative","scale":null},"align":{"condition":{"test":"datum.label == 'b'","value":"left"},"value":"center"}}}
]}
]},
{"spacing":39,"hconcat":[
{"width":348,"height":332,
"encoding":{"x":{"field":"pos","type":"quantitative","scale":{"domain":[-0.597,1.591],"nice":false,"zero":false},"axis":{"title":"Preytype","values":[0,1],"labelExpr":"datum.value == 0 ? 'Fish' : 'Invertebrates'","tickSize":5,"labelPadding":0,"titlePadding":16}}},
"layer":[
{"data":{"name":"prey"},"transform":[{"filter":"datum.lo != null"}],"mark":{"type":"rule","strokeDash":[10,7],"strokeWidth":3,"color":"#1a1a1a"},"encoding":{"y":{"field":"lo","type":"quantitative","scale":{"domain":[-0.149,1.502],"nice":false,"zero":false},"axis":{"values":[0,0.5,1],"format":".1f","title":null}},"y2":{"field":"hi"}}},
{"data":{"name":"prey"},"mark":{"type":"square","size":210,"color":"#1a1a1a","opacity":1,"filled":true},"encoding":{"y":{"field":"est","type":"quantitative","scale":{"domain":[-0.149,1.502],"nice":false,"zero":false},"axis":{"values":[0,0.5,1],"format":".1f","title":null}}}},
{"data":{"values":[{"pos":-0.471,"y":1.403,"label":"c"}]},"mark":{"type":"text","fontSize":24,"color":"#222","baseline":"alphabetic","align":"left"},"encoding":{"y":{"field":"y","type":"quantitative","scale":{"domain":[-0.149,1.502],"nice":false,"zero":false},"axis":{"values":[0,0.5,1],"format":".1f","title":null}},"text":{"field":"label"}}}
]},
{"width":351,"height":337,
"encoding":{"x":{"field":"pos","type":"quantitative","scale":{"domain":[-0.591,2.6],"nice":false,"zero":false},"axis":{"title":"Season","values":[0,1,2],"labelExpr":"['Fall','Winter','Summer'][datum.value]","tickSize":5,"labelPadding":-2,"titlePadding":14}}},
"layer":[
{"data":{"name":"season"},"transform":[{"filter":"datum.lo != null"}],"mark":{"type":"rule","strokeDash":[10,7],"strokeWidth":3,"color":"#1a1a1a"},"encoding":{"y":{"field":"lo","type":"quantitative","scale":{"domain":[-0.15,0.5],"nice":false,"zero":false},"axis":{"values":[-0.1,0,0.1,0.2,0.3,0.4],"format":".1f","title":null}},"y2":{"field":"hi"}}},
{"data":{"name":"season"},"mark":{"type":"square","size":210,"color":"#1a1a1a","opacity":1,"filled":true},"encoding":{"y":{"field":"est","type":"quantitative","scale":{"domain":[-0.15,0.5],"nice":false,"zero":false},"axis":{"values":[-0.1,0,0.1,0.2,0.3,0.4],"format":".1f","title":null}}}},
{"data":{"values":[{"pos":-0.436,"y":0.4498,"label":"d"}]},"mark":{"type":"text","fontSize":24,"color":"#222","baseline":"alphabetic","align":"left"},"encoding":{"y":{"field":"y","type":"quantitative","scale":{"domain":[-0.15,0.5],"nice":false,"zero":false},"axis":{"values":[-0.1,0,0.1,0.2,0.3,0.4],"format":".1f","title":null}},"text":{"field":"label"}}}
]}
]}
]
}
